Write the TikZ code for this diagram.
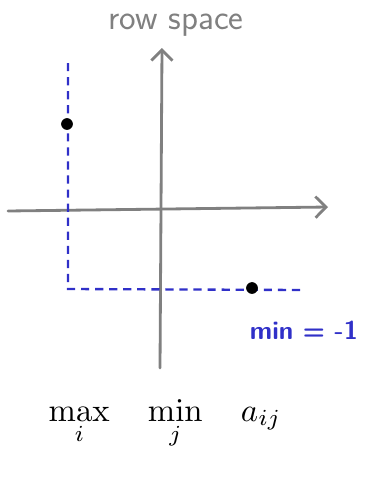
\documentclass[tikz,border=0pt]{standalone}
\usepackage{tikz}
\usetikzlibrary{arrows.meta,positioning}
\definecolor{penblue}{RGB}{48,48,200}
\definecolor{pengray}{RGB}{128,128,128}
\begin{document}
\begin{tikzpicture}[
  x=0.03cm, y=-0.03cm,
  axis/.style={pengray, line width=2.4pt, line cap=round, -{Straight Barb[length=9pt,width=18pt,line width=2.4pt]}},
  bound/.style={penblue, line width=2pt, dash pattern=on 7pt off 5pt},
  spot/.style={circle, fill=black, inner sep=0pt, minimum size=10pt},
  title/.style={pengray, anchor=base, inner sep=1pt, font=\sffamily\fontsize{30}{36}\selectfont},
  note/.style={penblue, font=\sffamily\bfseries\fontsize{22}{26}\selectfont},
  formula/.style={anchor=base}
]
\useasboundingbox (0,0) rectangle (374,477);
% axes
\coordinate (xs) at (8,211);
\coordinate (xe) at (328,207);
\coordinate (ys) at (160,368);
\coordinate (ye) at (162,48);
\draw[axis] (xs) -- (xe);
\draw[axis] (ys) -- (ye);
% bound lines
\coordinate (btop) at (68,63);
\coordinate (bcorner) at (68,289);
\coordinate (bright) at (302,290);
\draw[bound] (btop) -- (bcorner) -- (bright);
% points
\node[spot] (p1) at (67,124) {};
\node[spot] (p2) at (252,288) {};
% labels
\node[title] (rowsp) at (176,29) {row space};
\node[note] (minval) at (304,330) {min = -1};
\node[formula] (maxmin) at (165,421) {\scalebox{2.8}{$\displaystyle\max_i\quad\min_j\quad a_{ij}$}};
\end{tikzpicture}
\end{document}
